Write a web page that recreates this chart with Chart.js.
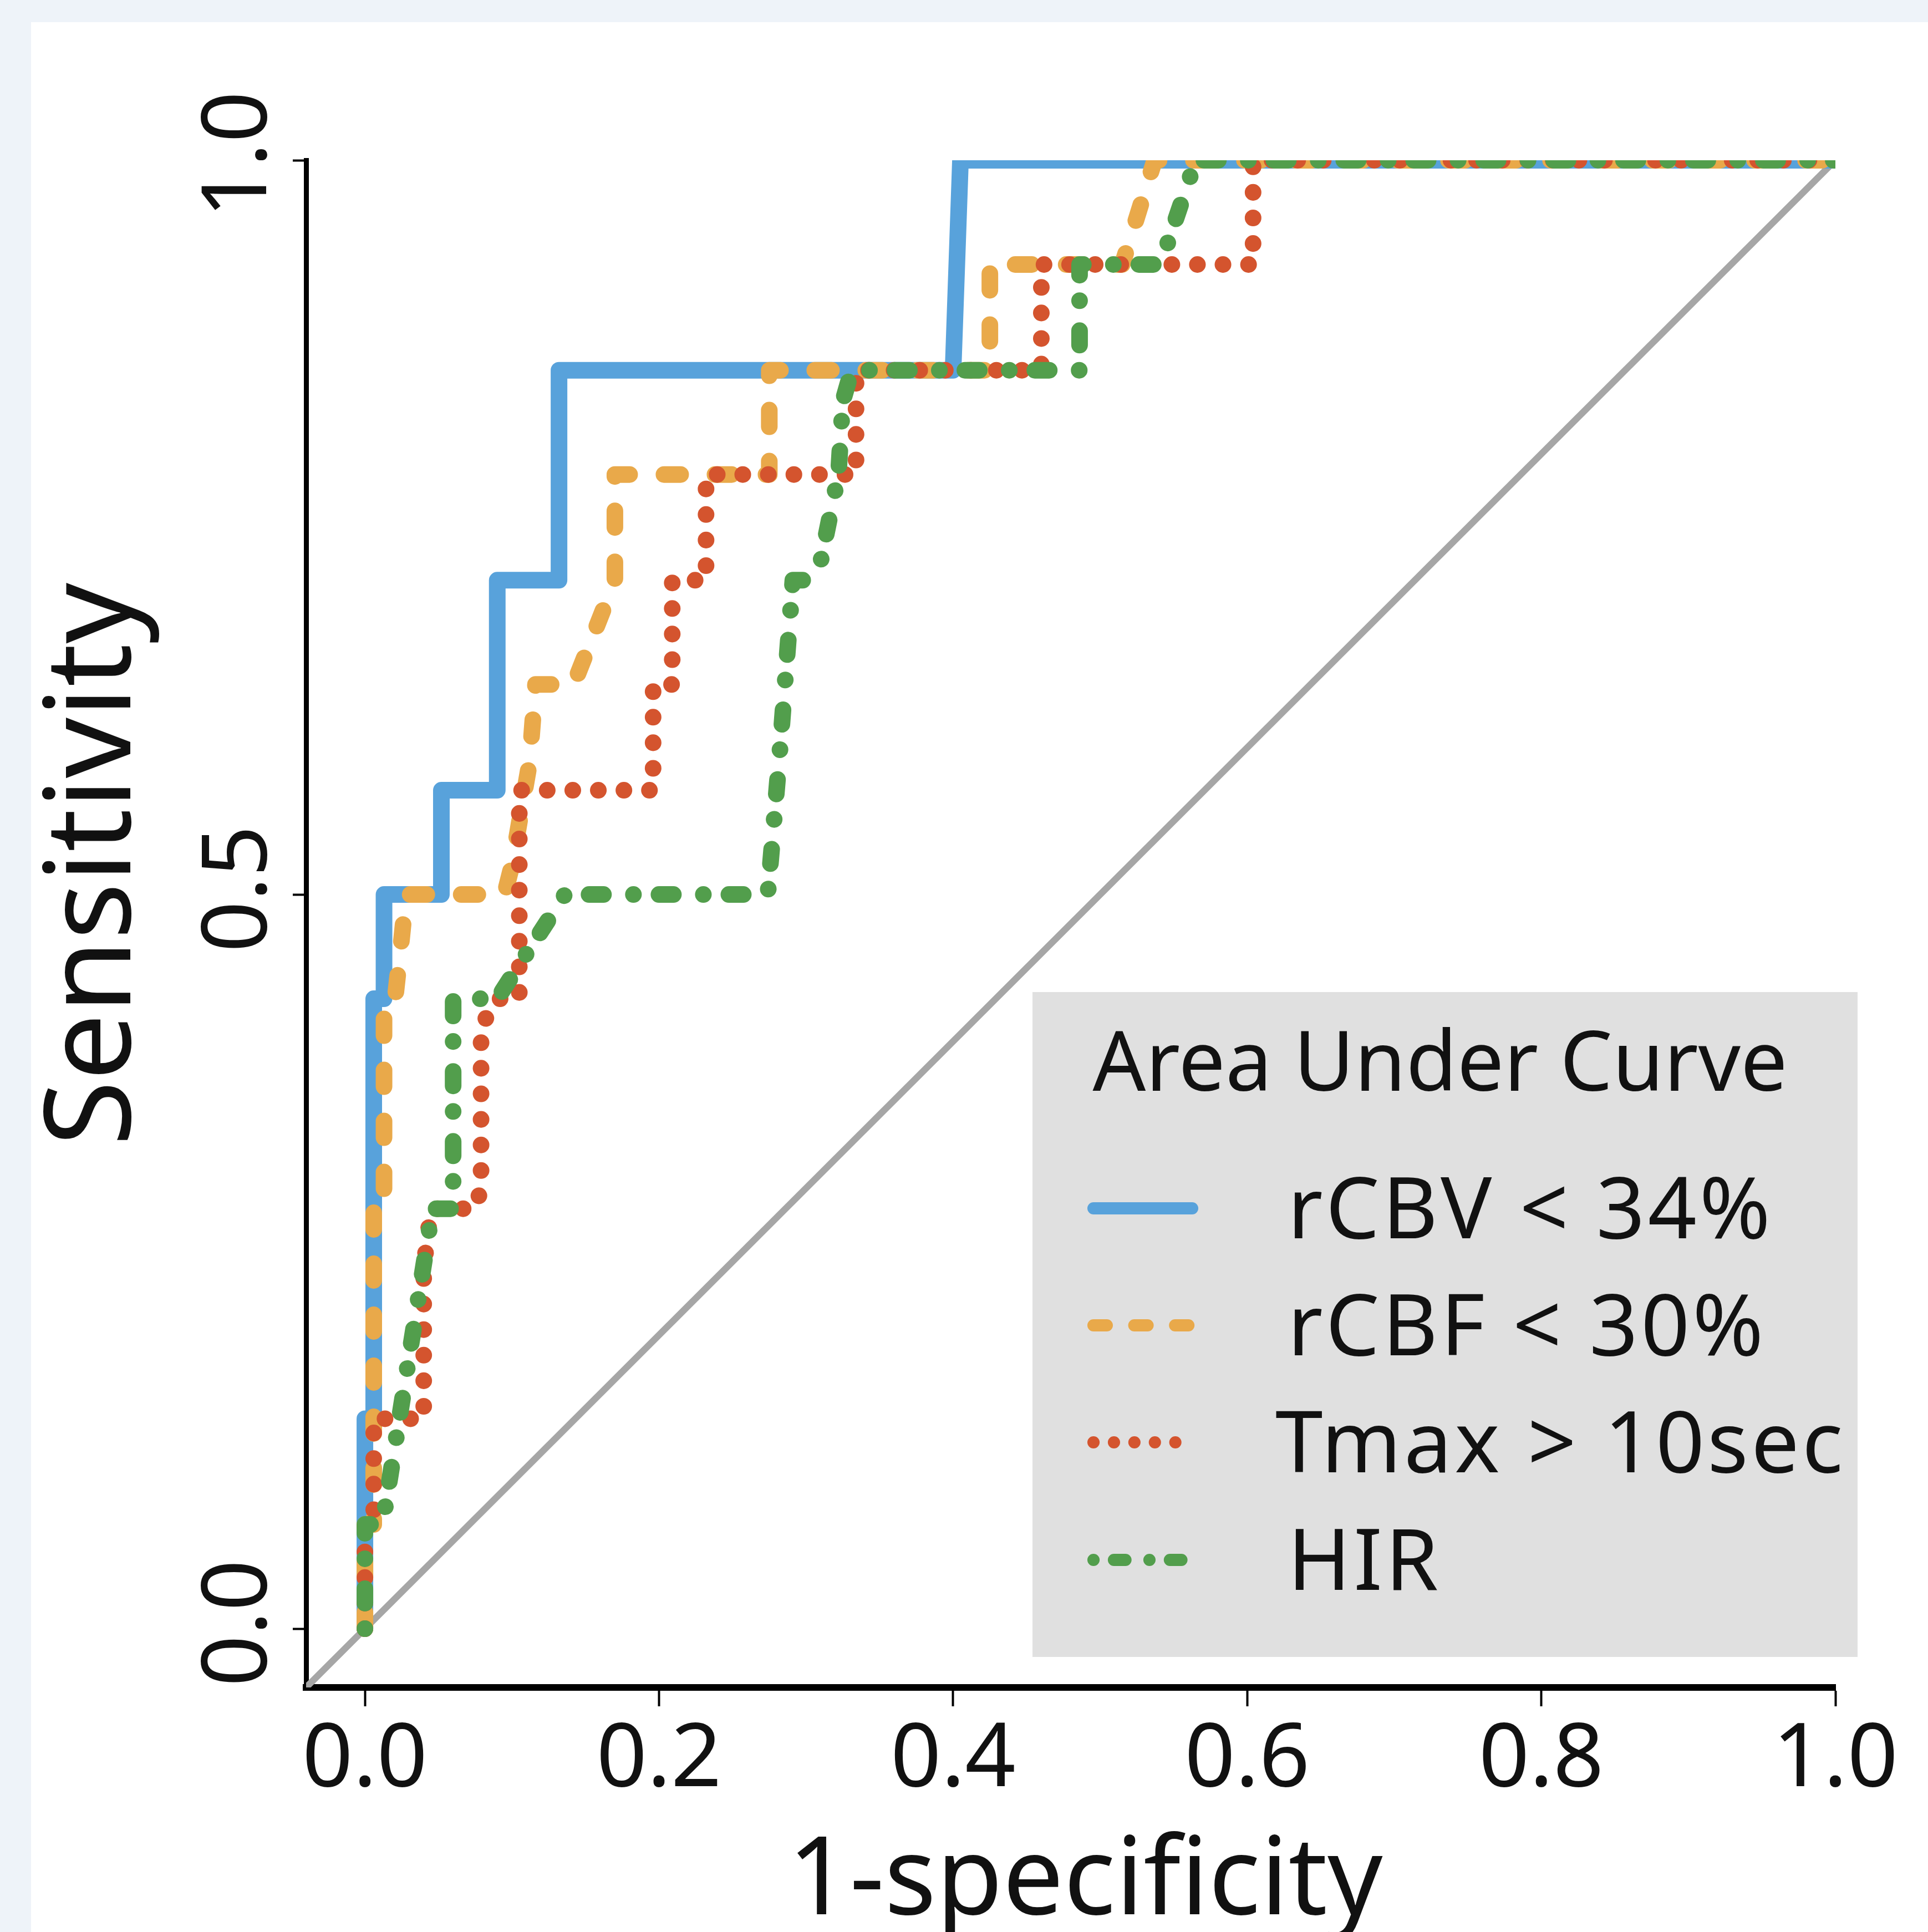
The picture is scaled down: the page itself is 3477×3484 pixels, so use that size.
<!DOCTYPE html>
<html>
<head>
<meta charset="utf-8">
<title>ROC curves</title>
<script src="https://cdn.jsdelivr.net/npm/chart.js@4.4.1/dist/chart.umd.min.js"></script>
<style>
  html, body { margin: 0; padding: 0; background: #eef3f9; }
  canvas { display: block; }
</style>
</head>
<body>
<canvas id="roc" width="3477" height="3484"></canvas>
<script>
// ROC curves: x = 1-specificity, y = sensitivity

const seriesNames = ['rCBV < 34%', 'rCBF < 30%', 'Tmax > 10sec', 'HIR'];

const rcbvX = [0, 0, 0.006, 0.006, 0.013, 0.013, 0.052, 0.052, 0.090, 0.090, 0.132, 0.132, 0.400, 0.405, 1];
const rcbvY = [0, 0.143, 0.143, 0.429, 0.429, 0.5, 0.5, 0.571, 0.571, 0.714, 0.714, 0.857, 0.857, 1, 1];

const rcbfX = [0, 0, 0.006, 0.006, 0.013, 0.013, 0.021, 0.025, 0.028, 0.095, 0.100, 0.112, 0.116, 0.142, 0.170, 0.170, 0.275, 0.275, 0.425, 0.425, 0.515, 0.537, 1];
const rcbfY = [0, 0.071, 0.071, 0.286, 0.286, 0.429, 0.433, 0.47, 0.5, 0.5, 0.52, 0.59, 0.643, 0.643, 0.714, 0.786, 0.786, 0.857, 0.857, 0.929, 0.929, 1, 1];

const tmaxX = [0, 0, 0.006, 0.006, 0.040, 0.040, 0.045, 0.075, 0.079, 0.079, 0.090, 0.105, 0.105, 0.196, 0.196, 0.209, 0.209, 0.232, 0.232, 0.334, 0.334, 0.460, 0.460, 0.604, 0.604, 1];
const tmaxY = [0, 0.071, 0.071, 0.143, 0.143, 0.246, 0.286, 0.286, 0.30, 0.41, 0.429, 0.429, 0.571, 0.571, 0.643, 0.643, 0.714, 0.714, 0.786, 0.786, 0.857, 0.857, 0.929, 0.929, 1, 1];

const hirX = [0, 0, 0.012, 0.046, 0.060, 0.060, 0.090, 0.136, 0.274, 0.282, 0.291, 0.298, 0.309, 0.322, 0.325, 0.331, 0.486, 0.486, 0.541, 0.565, 1];
const hirY = [0, 0.071, 0.071, 0.286, 0.286, 0.429, 0.429, 0.5, 0.5, 0.595, 0.714, 0.714, 0.722, 0.786, 0.836, 0.857, 0.857, 0.929, 0.929, 1, 1];

// chance line
const diagX = [-0.04, 1];
const diagY = [-0.04, 1];

const xTicks = [0, 0.2, 0.4, 0.6, 0.8, 1.0];
const yTicks = [0, 0.5, 1.0];

const xTitle = '1-specificity';
const yTitle = 'Sensitivity';
const legendTitle = 'Area Under Curve';

const FONT = '"Noto Sans", "Open Sans", sans-serif';

function zip(xs, ys) {
  return xs.map((x, i) => ({ x: x, y: ys[i] }));
}

const curveStyle = { showLine: true, pointRadius: 0, borderWidth: 30, borderCapStyle: 'round', borderJoinStyle: 'round', fill: false, tension: 0 };

const datasets = [
  Object.assign({ label: seriesNames[0], data: zip(rcbvX, rcbvY), borderColor: '#58a2db', borderDash: [], order: 4 }, curveStyle),
  Object.assign({ label: seriesNames[1], data: zip(rcbfX, rcbfY), borderColor: '#e9a94a', borderDash: [30, 62], order: 3 }, curveStyle),
  Object.assign({ label: seriesNames[2], data: zip(tmaxX, tmaxY), borderColor: '#d4542e', borderDash: [0.1, 46], order: 2 }, curveStyle),
  Object.assign({ label: seriesNames[3], data: zip(hirX, hirY), borderColor: '#529e4c', borderDash: [0.1, 46, 26, 54], order: 1 }, curveStyle),
  { label: 'diag', data: zip(diagX, diagY), showLine: true, pointRadius: 0, borderWidth: 12, borderColor: '#a6a6a6', order: 5 }
];

// background, rotated y labels, axis titles and the grey legend box
const decor = {
  id: 'decor',
  beforeDraw(chart) {
    const ctx = chart.ctx;
    ctx.save();
    ctx.fillStyle = '#eef3f9';
    ctx.fillRect(0, 0, chart.width, chart.height);
    ctx.fillStyle = '#ffffff';
    ctx.fillRect(56, 40, chart.width - 56, chart.height - 40);
    ctx.restore();
  },
  afterDraw(chart) {
    const ctx = chart.ctx;
    const y = chart.scales.y;
    const x = chart.scales.x;
    ctx.save();
    ctx.fillStyle = '#111111';

    // y tick labels, reading bottom to top
    ctx.font = '162px ' + FONT;
    ctx.textAlign = 'center';
    ctx.textBaseline = 'alphabetic';
    yTicks.forEach((v) => {
      ctx.save();
      ctx.translate(480, y.getPixelForValue(v) - 10);
      ctx.rotate(-Math.PI / 2);
      ctx.fillText(v.toFixed(1), 0, 0);
      ctx.restore();
    });

    // axis titles
    ctx.font = '215px ' + FONT;
    ctx.save();
    ctx.translate(235, 1559);
    ctx.rotate(-Math.PI / 2);
    ctx.fillText(yTitle, 0, 0);
    ctx.restore();

    ctx.font = '195px ' + FONT;
    ctx.fillText(xTitle, (x.left + x.right) / 2 + 26, 3452);

    // legend
    const bx = 1862, by = 1789, bw = 1488, bh = 1199;
    ctx.fillStyle = '#e0e0e0';
    ctx.fillRect(bx, by, bw, bh);

    ctx.fillStyle = '#111111';
    ctx.font = '150px ' + FONT;
    ctx.textAlign = 'center';
    ctx.fillText(legendTitle, 2597, 1967);

    const rowY = [2179, 2390, 2601, 2813];
    ctx.textAlign = 'left';
    ctx.font = '154px ' + FONT;
    ctx.letterSpacing = '5px';
    seriesNames.forEach((name, i) => {
      const ds = chart.data.datasets[i];
      ctx.save();
      ctx.strokeStyle = ds.borderColor;
      ctx.lineWidth = 22;
      ctx.lineCap = 'round';
      ctx.setLineDash(ds.borderDash.map((d) => (d > 1 ? d * 0.8 : d)));
      ctx.beginPath();
      ctx.moveTo(1972, rowY[i]);
      ctx.lineTo(2150, rowY[i]);
      ctx.stroke();
      ctx.restore();
      ctx.fillText(name, i === 2 ? 2300 : 2322, rowY[i] + 54);
    });
    ctx.restore();
  }
};

new Chart(document.getElementById('roc'), {
  type: 'scatter',
  data: { datasets: datasets },
  options: {
    responsive: false,
    animation: false,
    devicePixelRatio: 1,
    layout: { padding: { left: 0, top: 289, right: 167, bottom: 0 } },
    plugins: { legend: { display: false }, tooltip: { enabled: false } },
    scales: {
      x: {
        type: 'linear',
        min: -0.04,
        max: 1.0,
        afterBuildTicks: (s) => { s.ticks = xTicks.map((v) => ({ value: v })); },
        afterFit: (s) => { s.height = 441; },
        grid: { drawOnChartArea: false, drawTicks: true, tickLength: 34, tickWidth: 4, tickColor: '#000000' },
        border: { display: true, color: '#000000', width: 12 },
        ticks: {
          color: '#111111',
          font: { family: FONT, size: 160 },
          padding: 2,
          maxRotation: 0,
          autoSkip: false,
          callback: (v) => Number(v).toFixed(1)
        }
      },
      y: {
        type: 'linear',
        min: -0.04,
        max: 1.0,
        afterBuildTicks: (s) => { s.ticks = yTicks.map((v) => ({ value: v })); },
        afterFit: (s) => { s.width = 552; },
        grid: { drawOnChartArea: false, drawTicks: true, tickLength: 24, tickWidth: 4, tickColor: '#000000' },
        border: { display: true, color: '#000000', width: 9 },
        ticks: { display: false }
      }
    }
  },
  plugins: [decor]
});
</script>
</body>
</html>
